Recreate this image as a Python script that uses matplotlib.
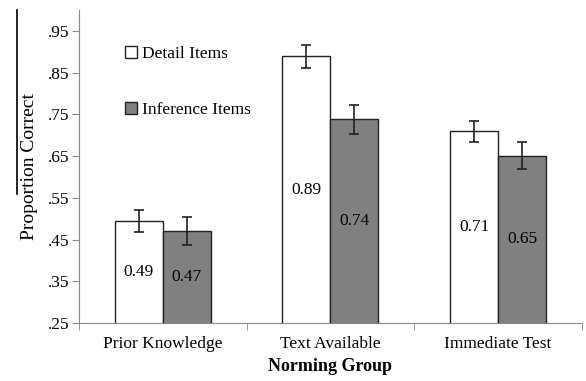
import matplotlib
matplotlib.use('Agg')
import matplotlib.pyplot as plt
import numpy as np
from matplotlib.lines import Line2D

groups = ['Prior Knowledge', 'Text Available', 'Immediate Test']
detail = [0.494, 0.889, 0.709]
inference = [0.471, 0.738, 0.651]
detail_err = [0.026, 0.028, 0.025]
inference_err = [0.033, 0.034, 0.033]
detail_labels = ['0.49', '0.89', '0.71']
inference_labels = ['0.47', '0.74', '0.65']
yticks = [.25, .35, .45, .55, .65, .75, .85, .95]

plt.rcParams['font.family'] = ['Liberation Serif', 'DejaVu Serif']

fig = plt.figure(figsize=(5.86, 3.81), dpi=100)
ax = fig.add_axes([0.1348, 0.1522, 0.858, 0.8216])

x = np.arange(len(groups))
w = 0.286
ekw = dict(elinewidth=1.2, capthick=1.2, ecolor='#222222')
ax.bar(x - w/2, detail, w, color='white', edgecolor='#222222', linewidth=1.0,
       yerr=detail_err, capsize=3.5, error_kw=ekw, label='Detail Items', zorder=2)
ax.bar(x + w/2, inference, w, color='#808080', edgecolor='#222222', linewidth=1.0,
       yerr=inference_err, capsize=3.5, error_kw=ekw, label='Inference Items', zorder=2)

for i in range(len(groups)):
    ax.text(x[i] - w/2, (detail[i] + 0.25) / 2, detail_labels[i], ha='center', va='center', fontsize=12.5)
    ax.text(x[i] + w/2, (inference[i] + 0.25) / 2, inference_labels[i], ha='center', va='center', fontsize=12.5)

ax.set_ylim(0.25, 1.0)
ax.set_xlim(-0.5, 2.5)
ax.set_yticks(yticks)
ax.set_yticklabels(['.%d' % round(v * 100) for v in yticks], fontsize=12.5)
ax.set_xticks(x)
ax.set_xticklabels(groups, fontsize=12.5)
ax.tick_params(axis='x', length=0, pad=9)
ax.set_xticks([-0.5, 0.5, 1.5, 2.5], minor=True)
ax.tick_params(axis='x', which='minor', length=5, color='#888888', direction='out')
ax.tick_params(axis='y', length=5, color='#888888', direction='out', pad=2)

for s in ['top', 'right']:
    ax.spines[s].set_visible(False)
ax.spines['left'].set_color('#888888')
ax.spines['bottom'].set_color('#888888')

ax.set_ylabel('Proportion Correct', fontsize=14, labelpad=7)
ax.set_xlabel('Norming Group', fontsize=13, fontweight='bold', labelpad=5)

ax.legend(loc='upper left', bbox_to_anchor=(0.06, 0.935), frameon=False, fontsize=12.5,
          handlelength=0.7, handleheight=0.7, handletextpad=0.3, labelspacing=2.3)

# left border line in the original scan
fig.add_artist(Line2D([0.029, 0.029], [0.49, 0.975], color='black', linewidth=1.2))

fig.savefig('out.png', dpi=100)
